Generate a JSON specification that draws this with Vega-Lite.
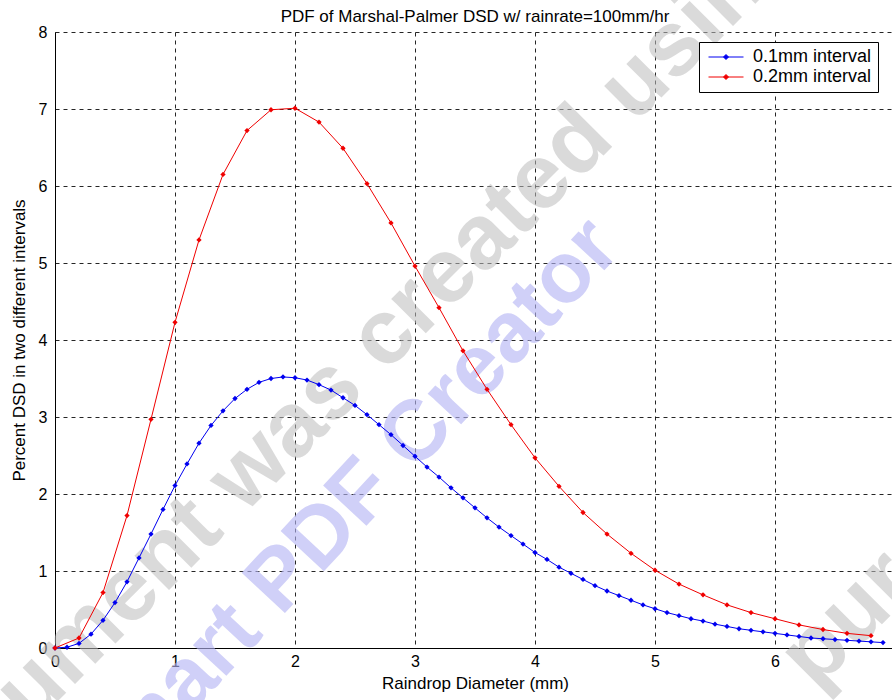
{
  "$schema": "https://vega.github.io/schema/vega-lite/v6.json",
  "width": 840,
  "height": 616,
  "autosize": {"type": "none"},
  "padding": {"left": 55, "top": 32, "right": 0, "bottom": 52},
  "background": "white",
  "config": {
    "view": {"stroke": null},
    "font": "Liberation Sans",
    "axis": {
      "labelFont": "Liberation Sans",
      "titleFont": "Liberation Sans",
      "labelColor": "black",
      "titleColor": "black",
      "titleFontWeight": "normal",
      "domainColor": "black",
      "domainWidth": 1,
      "ticks": false,
      "grid": true,
      "gridColor": "black",
      "gridDash": [4, 4],
      "gridOpacity": 0.85,
      "gridWidth": 1
    }
  },
  "title": {
    "text": "PDF of Marshal-Palmer DSD w/ rainrate=100mm/hr",
    "font": "Liberation Sans",
    "fontSize": 17,
    "fontWeight": "normal",
    "color": "black",
    "anchor": "middle",
    "frame": "group",
    "offset": -127
  },
  "datasets": {
    "stamp_gray": [
      {"d": 2.39, "pct": 3.51, "label": "document was created using"}
    ],
    "stamp_blue": [
      {"d": 2.39, "pct": 1.74, "label": "Smart PDF Creator"}
    ],
    "stamp_tail": [
      {"d": 6.17, "pct": -0.3, "label": "purchase"}
    ],
    "dsd": [
      {"d": 0.0, "pct": 0.0, "series": "0.1mm interval"},
      {"d": 0.1, "pct": 0.01, "series": "0.1mm interval"},
      {"d": 0.2, "pct": 0.06, "series": "0.1mm interval"},
      {"d": 0.3, "pct": 0.18, "series": "0.1mm interval"},
      {"d": 0.4, "pct": 0.36, "series": "0.1mm interval"},
      {"d": 0.5, "pct": 0.59, "series": "0.1mm interval"},
      {"d": 0.6, "pct": 0.86, "series": "0.1mm interval"},
      {"d": 0.7, "pct": 1.17, "series": "0.1mm interval"},
      {"d": 0.8, "pct": 1.48, "series": "0.1mm interval"},
      {"d": 0.9, "pct": 1.80, "series": "0.1mm interval"},
      {"d": 1.0, "pct": 2.11, "series": "0.1mm interval"},
      {"d": 1.1, "pct": 2.39, "series": "0.1mm interval"},
      {"d": 1.2, "pct": 2.66, "series": "0.1mm interval"},
      {"d": 1.3, "pct": 2.89, "series": "0.1mm interval"},
      {"d": 1.4, "pct": 3.08, "series": "0.1mm interval"},
      {"d": 1.5, "pct": 3.24, "series": "0.1mm interval"},
      {"d": 1.6, "pct": 3.36, "series": "0.1mm interval"},
      {"d": 1.7, "pct": 3.45, "series": "0.1mm interval"},
      {"d": 1.8, "pct": 3.50, "series": "0.1mm interval"},
      {"d": 1.9, "pct": 3.52, "series": "0.1mm interval"},
      {"d": 2.0, "pct": 3.51, "series": "0.1mm interval"},
      {"d": 2.1, "pct": 3.48, "series": "0.1mm interval"},
      {"d": 2.2, "pct": 3.42, "series": "0.1mm interval"},
      {"d": 2.3, "pct": 3.35, "series": "0.1mm interval"},
      {"d": 2.4, "pct": 3.25, "series": "0.1mm interval"},
      {"d": 2.5, "pct": 3.15, "series": "0.1mm interval"},
      {"d": 2.6, "pct": 3.03, "series": "0.1mm interval"},
      {"d": 2.7, "pct": 2.90, "series": "0.1mm interval"},
      {"d": 2.8, "pct": 2.77, "series": "0.1mm interval"},
      {"d": 2.9, "pct": 2.63, "series": "0.1mm interval"},
      {"d": 3.0, "pct": 2.49, "series": "0.1mm interval"},
      {"d": 3.1, "pct": 2.35, "series": "0.1mm interval"},
      {"d": 3.2, "pct": 2.22, "series": "0.1mm interval"},
      {"d": 3.3, "pct": 2.08, "series": "0.1mm interval"},
      {"d": 3.4, "pct": 1.95, "series": "0.1mm interval"},
      {"d": 3.5, "pct": 1.82, "series": "0.1mm interval"},
      {"d": 3.6, "pct": 1.69, "series": "0.1mm interval"},
      {"d": 3.7, "pct": 1.57, "series": "0.1mm interval"},
      {"d": 3.8, "pct": 1.46, "series": "0.1mm interval"},
      {"d": 3.9, "pct": 1.35, "series": "0.1mm interval"},
      {"d": 4.0, "pct": 1.24, "series": "0.1mm interval"},
      {"d": 4.1, "pct": 1.15, "series": "0.1mm interval"},
      {"d": 4.2, "pct": 1.05, "series": "0.1mm interval"},
      {"d": 4.3, "pct": 0.97, "series": "0.1mm interval"},
      {"d": 4.4, "pct": 0.89, "series": "0.1mm interval"},
      {"d": 4.5, "pct": 0.81, "series": "0.1mm interval"},
      {"d": 4.6, "pct": 0.74, "series": "0.1mm interval"},
      {"d": 4.7, "pct": 0.68, "series": "0.1mm interval"},
      {"d": 4.8, "pct": 0.62, "series": "0.1mm interval"},
      {"d": 4.9, "pct": 0.56, "series": "0.1mm interval"},
      {"d": 5.0, "pct": 0.51, "series": "0.1mm interval"},
      {"d": 5.1, "pct": 0.46, "series": "0.1mm interval"},
      {"d": 5.2, "pct": 0.42, "series": "0.1mm interval"},
      {"d": 5.3, "pct": 0.38, "series": "0.1mm interval"},
      {"d": 5.4, "pct": 0.35, "series": "0.1mm interval"},
      {"d": 5.5, "pct": 0.31, "series": "0.1mm interval"},
      {"d": 5.6, "pct": 0.28, "series": "0.1mm interval"},
      {"d": 5.7, "pct": 0.25, "series": "0.1mm interval"},
      {"d": 5.8, "pct": 0.23, "series": "0.1mm interval"},
      {"d": 5.9, "pct": 0.21, "series": "0.1mm interval"},
      {"d": 6.0, "pct": 0.19, "series": "0.1mm interval"},
      {"d": 6.1, "pct": 0.17, "series": "0.1mm interval"},
      {"d": 6.2, "pct": 0.15, "series": "0.1mm interval"},
      {"d": 6.3, "pct": 0.13, "series": "0.1mm interval"},
      {"d": 6.4, "pct": 0.12, "series": "0.1mm interval"},
      {"d": 6.5, "pct": 0.11, "series": "0.1mm interval"},
      {"d": 6.6, "pct": 0.10, "series": "0.1mm interval"},
      {"d": 6.7, "pct": 0.09, "series": "0.1mm interval"},
      {"d": 6.8, "pct": 0.08, "series": "0.1mm interval"},
      {"d": 6.9, "pct": 0.07, "series": "0.1mm interval"},
      {"d": 0.0, "pct": 0.0, "series": "0.2mm interval"},
      {"d": 0.2, "pct": 0.13, "series": "0.2mm interval"},
      {"d": 0.4, "pct": 0.72, "series": "0.2mm interval"},
      {"d": 0.6, "pct": 1.72, "series": "0.2mm interval"},
      {"d": 0.8, "pct": 2.97, "series": "0.2mm interval"},
      {"d": 1.0, "pct": 4.23, "series": "0.2mm interval"},
      {"d": 1.2, "pct": 5.30, "series": "0.2mm interval"},
      {"d": 1.4, "pct": 6.15, "series": "0.2mm interval"},
      {"d": 1.6, "pct": 6.72, "series": "0.2mm interval"},
      {"d": 1.8, "pct": 6.99, "series": "0.2mm interval"},
      {"d": 2.0, "pct": 7.01, "series": "0.2mm interval"},
      {"d": 2.2, "pct": 6.83, "series": "0.2mm interval"},
      {"d": 2.4, "pct": 6.49, "series": "0.2mm interval"},
      {"d": 2.6, "pct": 6.03, "series": "0.2mm interval"},
      {"d": 2.8, "pct": 5.52, "series": "0.2mm interval"},
      {"d": 3.0, "pct": 4.96, "series": "0.2mm interval"},
      {"d": 3.2, "pct": 4.42, "series": "0.2mm interval"},
      {"d": 3.4, "pct": 3.86, "series": "0.2mm interval"},
      {"d": 3.6, "pct": 3.36, "series": "0.2mm interval"},
      {"d": 3.8, "pct": 2.90, "series": "0.2mm interval"},
      {"d": 4.0, "pct": 2.47, "series": "0.2mm interval"},
      {"d": 4.2, "pct": 2.10, "series": "0.2mm interval"},
      {"d": 4.4, "pct": 1.76, "series": "0.2mm interval"},
      {"d": 4.6, "pct": 1.48, "series": "0.2mm interval"},
      {"d": 4.8, "pct": 1.23, "series": "0.2mm interval"},
      {"d": 5.0, "pct": 1.01, "series": "0.2mm interval"},
      {"d": 5.2, "pct": 0.83, "series": "0.2mm interval"},
      {"d": 5.4, "pct": 0.69, "series": "0.2mm interval"},
      {"d": 5.6, "pct": 0.56, "series": "0.2mm interval"},
      {"d": 5.8, "pct": 0.46, "series": "0.2mm interval"},
      {"d": 6.0, "pct": 0.38, "series": "0.2mm interval"},
      {"d": 6.2, "pct": 0.30, "series": "0.2mm interval"},
      {"d": 6.4, "pct": 0.24, "series": "0.2mm interval"},
      {"d": 6.6, "pct": 0.19, "series": "0.2mm interval"},
      {"d": 6.8, "pct": 0.16, "series": "0.2mm interval"}
    ]
  },
  "layer": [
    {
      "data": {"name": "stamp_gray"},
      "mark": {
        "type": "text",
        "font": "Liberation Sans",
        "fontWeight": "bold",
        "fontSize": 92,
        "angle": -45,
        "align": "center",
        "baseline": "middle",
        "color": "#bdbdbd",
        "opacity": 0.55,
        "clip": false
      },
      "encoding": {
        "x": {"field": "d", "type": "quantitative", "scale": {"domain": [0, 7], "nice": false}},
        "y": {"field": "pct", "type": "quantitative", "scale": {"domain": [0, 8], "nice": false}},
        "text": {"field": "label"}
      }
    },
    {
      "data": {"name": "stamp_blue"},
      "mark": {
        "type": "text",
        "font": "Liberation Sans",
        "fontWeight": "bold",
        "fontSize": 86,
        "angle": -47,
        "align": "center",
        "baseline": "middle",
        "color": "#b4b4f4",
        "opacity": 0.62,
        "clip": false
      },
      "encoding": {
        "x": {"field": "d", "type": "quantitative", "scale": {"domain": [0, 7], "nice": false}},
        "y": {"field": "pct", "type": "quantitative", "scale": {"domain": [0, 8], "nice": false}},
        "text": {"field": "label"}
      }
    },
    {
      "data": {"name": "stamp_tail"},
      "mark": {
        "type": "text",
        "font": "Liberation Sans",
        "fontWeight": "bold",
        "fontSize": 92,
        "angle": -45,
        "align": "left",
        "baseline": "middle",
        "color": "#bdbdbd",
        "opacity": 0.55,
        "clip": false
      },
      "encoding": {
        "x": {"field": "d", "type": "quantitative", "scale": {"domain": [0, 7], "nice": false}},
        "y": {"field": "pct", "type": "quantitative", "scale": {"domain": [0, 8], "nice": false}},
        "text": {"field": "label"}
      }
    },
    {
      "data": {"name": "dsd"},
      "encoding": {
        "x": {
          "field": "d",
          "type": "quantitative",
          "scale": {"domain": [0, 7], "nice": false},
          "axis": {
            "title": "Raindrop Diameter (mm)",
            "values": [0, 1, 2, 3, 4, 5, 6],
            "format": "d",
            "labelFlush": false,
            "labelFontSize": 16,
            "labelPadding": 5,
            "titleFontSize": 17,
            "titlePadding": 6
          }
        },
        "y": {
          "field": "pct",
          "type": "quantitative",
          "scale": {"domain": [0, 8], "nice": false},
          "axis": {
            "title": "Percent DSD in two different intervals",
            "values": [0, 1, 2, 3, 4, 5, 6, 7, 8],
            "format": "d",
            "labelFontSize": 16,
            "labelPadding": 8,
            "titleFontSize": 17,
            "titlePadding": 10
          }
        },
        "color": {
          "field": "series",
          "type": "nominal",
          "scale": {
            "domain": ["0.1mm interval", "0.2mm interval"],
            "range": ["#0000f0", "#f00000"]
          },
          "legend": {
            "title": null,
            "orient": "none",
            "legendX": 644,
            "legendY": 10,
            "padding": 6,
            "strokeColor": "black",
            "fillColor": "white",
            "symbolType": "M-3.5,0H3.5M0,-0.5L0.5,0L0,0.5L-0.5,0Z",
            "symbolSize": 100,
            "symbolStrokeWidth": 1,
            "symbolOffset": 12,
            "labelOffset": 18,
            "labelFont": "Liberation Sans",
            "labelFontSize": 18,
            "labelColor": "black",
            "rowPadding": 2,
            "encode": {
              "symbols": {
                "update": {
                  "fill": {"scale": "color", "field": "value"},
                  "stroke": {"scale": "color", "field": "value"},
                  "opacity": {"value": 1}
                }
              }
            }
          }
        }
      },
      "layer": [
        {"mark": {"type": "line", "strokeWidth": 1}},
        {"mark": {"type": "point", "filled": true, "shape": "diamond", "size": 28, "opacity": 1}}
      ]
    }
  ]
}
